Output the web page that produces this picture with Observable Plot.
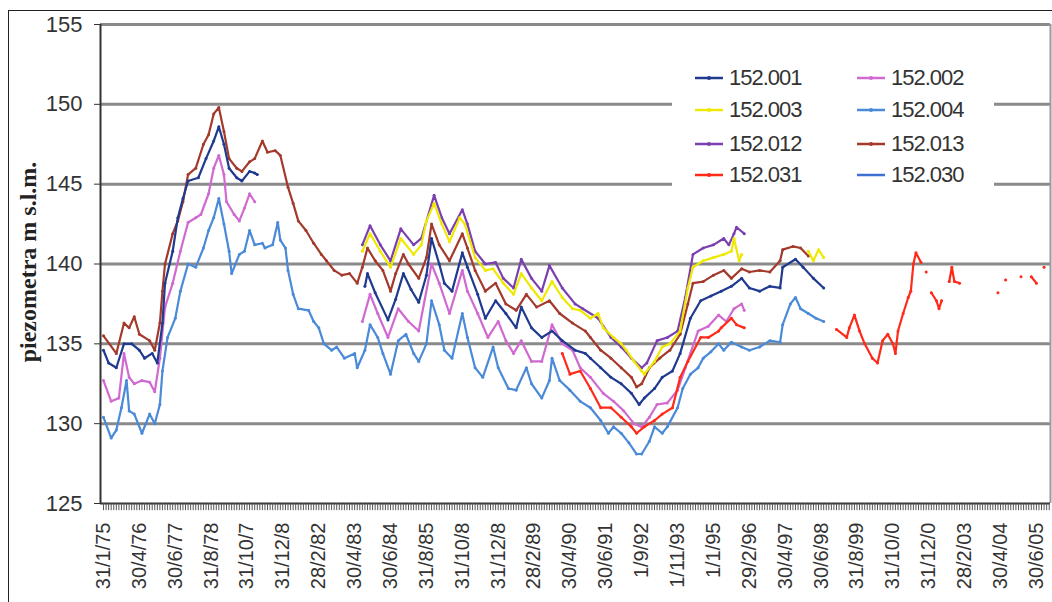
<!DOCTYPE html>
<html><head><meta charset="utf-8">
<script src="https://cdn.jsdelivr.net/npm/d3@7"></script>
<script src="https://cdn.jsdelivr.net/npm/@observablehq/plot@0.6"></script>
<style>
body{margin:0;background:#fff;}
#wrap{position:relative;width:1052px;height:602px;overflow:hidden;background:#fff;}
#frame{position:absolute;left:8px;top:10px;width:1100px;height:700px;border-left:1.5px solid #222;border-top:1.5px solid #222;pointer-events:none;}
#legend{position:absolute;left:672px;top:56px;width:322px;height:144px;background:#fff;font-family:"Liberation Sans",Arial,sans-serif;font-size:22px;color:#333;letter-spacing:-1px;}
.item{position:absolute;height:26px;display:flex;align-items:center;}
.item span{margin-left:6px;}
</style>
</head><body><div id="wrap"><div id="chart"></div><div id="frame"></div><div id="legend"></div></div>
<script>
// x = month index from 31/1/75 (category axis), y = piezometric level (m s.l.m.)
const xLabels = ["31/1/75","30/4/76","30/6/77","31/8/78","31/10/7","31/12/8","28/2/82","30/4/83","30/6/84","31/8/85","31/10/8","31/12/8","28/2/89","30/4/90","30/6/91","1/9/92","1/11/93","1/1/95","29/2/96","30/4/97","30/6/98","31/8/99","31/10/0","31/12/0","28/2/03","30/4/04","30/6/05"];
const yTicks = [125,130,135,140,145,150,155];

const S152_001 = [[0,134.6],[2,133.8],[5,133.5],[8,135.0],[11,135.0],[14,134.6],[16,134.1],[19,134.4],[21,133.8],[23,136.3],[24,138.8],[27,140.8],[29,142.9],[31,144.1],[33,145.2],[37,145.4],[40,146.6],[43,147.7],[45,148.6],[47,147.5],[49,146.0],[52,145.4],[54,145.2],[57,145.8],[59,145.7],[60,145.6],[80,NaN],
[102,138.6],[103,139.4],[106,138.2],[111,136.5],[114,137.8],[117,139.4],[120,138.4],[123,137.6],[126,139.3],[128,141.6],[131,140.0],[133,138.8],[136,138.3],[140,140.7],[142,139.8],[146,138.1],[149,136.6],[153,137.7],[157,136.9],[161,136.0],[163,137.3],[167,136.0],[171,135.4],[175,135.8],[179,135.2],[184,134.6],[188,134.4],[190,134.1],[194,133.5],[198,132.9],[202,132.5],[206,131.9],[209,131.2],[211,131.6],[215,132.2],[218,132.9],[222,133.3],[225,134.4],[229,136.6],[233,137.7],[237,138.0],[241,138.3],[245,138.6],[249,139.1],[252,138.5],[256,138.3],[260,138.6],[264,138.5],[265,139.8],[270,140.3],[273,139.8],[277,139.1],[281,138.5]];

const S152_002 = [[0,132.7],[3,131.4],[6,131.6],[8,134.4],[10,132.9],[12,132.5],[15,132.7],[18,132.6],[20,132.0],[22,134.1],[24,137.3],[27,138.8],[30,140.8],[33,142.6],[36,142.9],[38,143.1],[41,144.4],[43,146.0],[45,146.8],[47,145.6],[48,143.9],[51,143.1],[53,142.7],[55,143.5],[57,144.4],[59,143.9],[80,NaN],
[101,136.4],[104,138.1],[107,136.9],[111,135.4],[115,137.2],[119,136.4],[123,135.8],[128,140.0],[131,138.8],[135,136.9],[140,139.6],[142,138.3],[146,136.9],[150,135.4],[154,136.4],[157,135.2],[160,134.4],[163,135.2],[167,133.9],[171,133.9],[175,136.2],[179,135.0],[183,134.6],[186,133.5],[190,132.9],[195,131.9],[199,131.4],[203,130.8],[207,130.0],[210,129.8],[213,130.4],[216,131.2],[220,131.3],[224,132.1],[227,133.5],[232,135.8],[236,136.1],[240,136.8],[243,136.4],[246,137.2],[249,137.5],[250,137.1]];

const S152_003 = [[101,140.8],[104,141.9],[108,140.8],[112,139.8],[116,141.6],[121,140.6],[124,141.2],[126,142.7],[129,143.8],[132,142.5],[135,141.4],[139,142.9],[141,142.5],[145,140.4],[149,139.6],[152,139.7],[156,138.8],[160,138.1],[163,139.4],[167,138.5],[171,137.7],[175,138.9],[179,137.9],[183,137.2],[186,137.1],[190,136.6],[193,136.9],[195,136.0],[199,135.4],[202,135.0],[204,134.6],[207,133.9],[210,133.3],[211,133.1],[215,133.9],[218,134.8],[221,135.0],[225,135.8],[228,138.5],[230,139.8],[234,140.2],[238,140.4],[242,140.6],[245,140.8],[246,141.6],[248,140.2],[249,140.6],[262,NaN],
[275,140.8],[277,140.2],[279,140.9],[281,140.4]];

const S152_004 = [[0,130.4],[3,129.1],[5,129.6],[7,131.0],[9,132.7],[10,130.8],[12,130.6],[15,129.4],[18,130.6],[20,130.0],[22,131.2],[23,133.3],[25,135.4],[28,136.6],[30,138.3],[33,140.0],[36,139.8],[39,141.0],[41,142.1],[43,142.9],[45,144.1],[47,142.5],[49,140.8],[50,139.4],[53,140.6],[55,140.8],[57,142.1],[59,141.2],[62,141.3],[63,141.0],[66,141.2],[68,142.6],[69,141.5],[71,141.0],[72,139.6],[74,138.1],[76,137.2],[80,137.1],[82,136.4],[84,136.0],[86,135.0],[89,134.6],[91,134.8],[94,134.1],[98,134.4],[99,133.5],[102,134.6],[104,136.2],[107,135.4],[109,134.4],[112,133.1],[115,135.2],[118,135.6],[121,134.4],[123,133.9],[126,135.0],[128,137.7],[131,136.2],[133,134.6],[136,134.1],[140,136.9],[142,135.4],[145,133.5],[148,132.9],[152,134.8],[154,133.5],[158,132.2],[161,132.1],[165,133.5],[167,132.5],[171,131.6],[174,132.7],[175,134.1],[178,132.7],[182,132.1],[186,131.4],[190,131.0],[194,130.2],[197,129.4],[199,129.8],[202,129.4],[205,128.8],[208,128.1],[210,128.1],[213,128.9],[215,129.8],[218,129.4],[220,129.8],[224,131.0],[226,132.2],[229,133.1],[232,133.5],[234,134.1],[237,134.5],[240,135.0],[242,134.6],[245,135.1],[249,134.8],[252,134.6],[256,134.8],[260,135.2],[264,135.1],[265,136.2],[268,137.5],[270,137.9],[272,137.2],[275,136.9],[278,136.6],[281,136.4]];

const S152_012 = [[101,141.2],[104,142.4],[108,141.2],[112,140.2],[116,142.2],[121,141.2],[124,141.6],[129,144.3],[132,142.9],[135,141.9],[140,143.4],[142,142.5],[145,140.8],[149,140.0],[153,140.1],[156,139.1],[160,138.5],[163,140.3],[167,139.1],[171,138.3],[174,139.9],[179,138.5],[184,137.5],[187,137.2],[193,136.6],[198,135.4],[202,134.8],[206,134.1],[210,133.5],[212,133.8],[216,135.2],[220,135.4],[224,135.8],[227,137.9],[230,140.6],[234,141.0],[238,141.2],[242,141.6],[244,141.2],[246,141.9],[247,142.3],[250,141.9]];

const S152_013 = [[0,135.5],[5,134.4],[8,136.3],[10,136.0],[12,136.7],[14,135.6],[18,135.2],[20,134.6],[22,136.3],[23,138.3],[24,140.0],[27,141.9],[29,142.7],[31,143.9],[33,145.6],[36,146.0],[39,147.5],[41,148.1],[43,149.4],[45,149.8],[47,148.3],[49,146.6],[52,146.0],[54,145.8],[57,146.4],[59,146.6],[62,147.7],[64,147.0],[67,147.1],[69,146.8],[72,144.8],[74,143.8],[76,142.7],[79,142.1],[82,141.3],[85,140.6],[87,140.2],[90,139.6],[93,139.3],[96,139.4],[99,138.8],[101,139.8],[103,141.0],[106,140.2],[109,139.6],[112,138.3],[114,139.4],[117,140.6],[119,140.0],[123,139.1],[126,140.4],[128,142.5],[131,141.2],[135,140.2],[140,141.9],[142,141.0],[145,139.6],[149,138.3],[153,138.8],[157,137.5],[161,137.1],[165,138.1],[169,137.3],[174,137.7],[178,136.9],[183,136.3],[188,135.8],[190,135.4],[194,134.6],[198,134.1],[202,133.5],[206,132.9],[208,132.3],[210,132.5],[213,133.5],[217,134.1],[221,134.6],[225,135.6],[228,137.5],[230,138.8],[234,138.9],[238,139.3],[242,139.6],[245,139.1],[249,139.7],[252,139.5],[256,139.6],[260,139.5],[264,140.2],[265,140.9],[269,141.1],[272,141.0],[275,140.5]];

const S152_031 = [[179,134.4],[182,133.1],[186,133.3],[190,132.2],[194,131.0],[198,131.0],[202,130.4],[206,129.8],[208,129.4],[211,129.8],[215,130.2],[218,130.6],[222,131.0],[225,132.9],[228,133.9],[233,135.4],[236,135.4],[240,135.8],[241,136.0],[245,136.6],[247,136.2],[250,136.0],[265,NaN],
[286,135.9],[290,135.4],[291,136.0],[293,136.8],[295,135.8],[297,135.0],[300,134.1],[302,133.8],[304,135.2],[306,135.6],[308,135.0],[309,134.4],[310,135.8],[312,136.9],[314,137.9],[315,138.3],[316,140.0],[317,140.7],[319,140.1],[320,NaN],[321,139.5],[322,NaN],[323,138.2],[325,137.7],[326,137.2],[327,137.7],[328,NaN],[330,138.9],[331,139.8],[332,138.9],[334,138.8],[335,NaN],[349,138.2],[350,NaN],[352,139.0],[353,NaN],[358,139.2],[359,NaN],[362,139.2],[364,138.8],[365,NaN],[367,139.8]];

const S152_030 = [];

const seriesNames = ["152.001","152.002","152.003","152.004","152.012","152.013","152.031","152.030"];
const seriesColors = ["#1f3a8f","#d06ad0","#efe800","#4a8ad8","#7b3fb0","#a33a2c","#ff2a1a","#3f6fd0"];
const seriesData = [S152_001,S152_002,S152_003,S152_004,S152_012,S152_013,S152_031,S152_030];
const drawOrder = [3,5,1,0,4,2,6,7];

const xTickPos = xLabels.map((_, i) => i * 14);
const monthTicks = d3.range(0, 370);

const seriesMarks = drawOrder.flatMap(i => [
  Plot.line(seriesData[i], {x: d => d[0], y: d => d[1], stroke: seriesColors[i], strokeWidth: 2.2}),
  Plot.dot(seriesData[i], {x: d => d[0], y: d => d[1], r: 1.5, fill: seriesColors[i]})
]);

const chart = Plot.plot({
  width: 1052, height: 602,
  marginLeft: 100, marginRight: 2, marginTop: 24, marginBottom: 99,
  x: {domain: [-1.17, 369.5]},
  y: {domain: [125, 155]},
  style: {fontFamily: "Liberation Sans, Arial, sans-serif", color: "#333", background: "transparent"},
  marks: [
    Plot.ruleY(yTicks.filter(v => v > 125), {stroke: "#8a8a8a", strokeWidth: 3}),
    Plot.ruleX([369.5], {y1: 125, y2: 155, stroke: "#9a9a9a", strokeWidth: 2}),
    ...seriesMarks,
    Plot.ruleY([125], {stroke: "#333", strokeWidth: 2}),
    Plot.ruleX([-1.17], {y1: 125, y2: 155, stroke: "#333", strokeWidth: 2}),
    Plot.ruleX(monthTicks, {x: d => d, y1: 125, y2: 124.55, stroke: "#555", strokeWidth: 1}),
    Plot.axisY({ticks: yTicks, tickSize: 6, tickPadding: 12, fontSize: 22, label: null}),
    Plot.axisX({ticks: xTickPos, tickFormat: d => xLabels[Math.round(d / 14)], tickSize: 0, tickRotate: -90, tickPadding: 19, fontSize: 20, label: null})
  ]
});

d3.select(chart).append("text")
  .attr("transform", "translate(30,262) rotate(-90)")
  .attr("text-anchor", "middle")
  .attr("dominant-baseline", "middle")
  .attr("font-family", "Liberation Serif, Times New Roman, serif")
  .attr("font-weight", "bold")
  .attr("font-size", 24)
  .attr("fill", "#222")
  .text("piezometra m s.l.m.");

document.getElementById("chart").appendChild(chart);

// legend
const legendPos = [[0,0],[1,0],[0,1],[1,1],[0,2],[1,2],[0,3],[1,3]];
const legend = document.getElementById("legend");
seriesNames.forEach((name, i) => {
  const [c, r] = legendPos[i];
  const div = document.createElement("div");
  div.className = "item";
  div.style.left = (c === 0 ? 23 : 185) + "px";
  div.style.top = [9, 41, 75, 106][r] + "px";
  const hasMarker = name !== "152.030";
  div.innerHTML = `<svg width="28" height="10"><line x1="0" y1="5" x2="28" y2="5" stroke="${seriesColors[i]}" stroke-width="2.5"/>${hasMarker ? `<circle cx="14" cy="5" r="2" fill="${seriesColors[i]}"/>` : ""}</svg><span>${name}</span>`;
  legend.appendChild(div);
});
</script>
</body></html>
